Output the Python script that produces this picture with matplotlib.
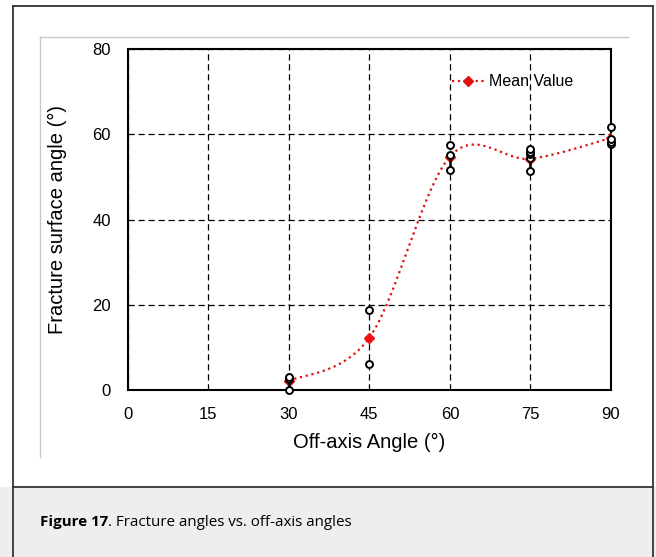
import numpy as np
import matplotlib
matplotlib.use("Agg")
import matplotlib.pyplot as plt
from matplotlib.lines import Line2D
from matplotlib.patches import Rectangle

angles = [30, 45, 60, 75, 90]
samples = [
    [0.0, 2.7, 3.1],
    [6.0, 18.7],
    [51.7, 55.2, 57.5],
    [51.4, 54.4, 55.4, 56.0, 56.5],
    [57.8, 58.3, 59.0, 61.8],
]
mean_vals = [2.1, 12.3, 54.8, 54.3, 59.2]
err_low = [2.1, 0.0, 3.1, 2.9, 1.4]
err_high = [1.0, 0.0, 0.4, 0.0, 0.0]

xticks = [0, 15, 30, 45, 60, 75, 90]
yticks = [0, 20, 40, 60, 80]


def excel_smooth(x, y, n=60):
    # bezier smoothing like the spreadsheet "smoothed line" option
    x = np.asarray(x, float)
    y = np.asarray(y, float)
    px, py = [], []
    for i in range(len(x) - 1):
        i0 = max(i - 1, 0)
        i3 = min(i + 2, len(x) - 1)
        c1x = x[i] + (x[i + 1] - x[i0]) / 6
        c1y = y[i] + (y[i + 1] - y[i0]) / 6
        c2x = x[i + 1] - (x[i3] - x[i]) / 6
        c2y = y[i + 1] - (y[i3] - y[i]) / 6
        t = np.linspace(0, 1, n)
        b0 = (1 - t) ** 3
        b1 = 3 * (1 - t) ** 2 * t
        b2 = 3 * (1 - t) * t ** 2
        b3 = t ** 3
        px.append(b0 * x[i] + b1 * c1x + b2 * c2x + b3 * x[i + 1])
        py.append(b0 * y[i] + b1 * c1y + b2 * c2y + b3 * y[i + 1])
    return np.concatenate(px), np.concatenate(py)


W, H = 656, 557
fig = plt.figure(figsize=(W / 100, H / 100), dpi=100)
fig.patch.set_facecolor("white")

# page decoration: outer box, caption panel, light frame
fig.patches.append(Rectangle((0, 0), 1, (H - 487) / H, transform=fig.transFigure,
                             facecolor="#eeeeee", edgecolor="none", zorder=0))
fig.add_artist(Line2D([12.5 / W, 12.5 / W], [0, 1 - 6 / H], color="#333333", lw=1.3))
fig.add_artist(Line2D([653 / W, 653 / W], [0, 1 - 6 / H], color="#333333", lw=1.3))
fig.add_artist(Line2D([12.5 / W, 653 / W], [1 - 6 / H, 1 - 6 / H], color="#333333", lw=1.3))
fig.add_artist(Line2D([12.5 / W, 653 / W], [1 - 487 / H, 1 - 487 / H], color="#333333", lw=1.3))
fig.add_artist(Line2D([40 / W, 628 / W], [1 - 37 / H, 1 - 37 / H], color="#c8c8c8", lw=1.0))
fig.add_artist(Line2D([40 / W, 40 / W], [1 - 37 / H, 1 - 457 / H], color="#c8c8c8", lw=1.0))

cap = fig.text(40 / W, 1 - 522 / H, "Figure 17", fontsize=10.9, fontweight="bold",
               family="Open Sans", va="center", ha="left")
fig.canvas.draw()
bb = cap.get_window_extent()
fig.text(bb.x1 / W, 1 - 522 / H, ". Fracture angles vs. off-axis angles", fontsize=10.9,
         family="Open Sans", va="center", ha="left")

ax = fig.add_axes([127.7 / W, 1 - 390 / H, (611 - 127.7) / W, (390 - 49.3) / H])
ax.set_xlim(0, 90)
ax.set_ylim(0, 80)
ax.set_xticks(xticks)
ax.set_yticks(yticks)
ax.tick_params(length=0, labelsize=12)
ax.tick_params(axis="y", pad=12)
ax.tick_params(axis="x", pad=12)
for lab in ax.get_xticklabels() + ax.get_yticklabels():
    lab.set_family("Liberation Sans")
for s in ax.spines.values():
    s.set_linewidth(1.5)
    s.set_color("black")
ax.grid(True, color="black", linestyle=(0, (5, 3)), linewidth=0.9)
ax.set_axisbelow(True)

sx, sy = excel_smooth(angles, mean_vals)
ax.plot(sx, sy, color="#e01010", linestyle=":", linewidth=1.6, zorder=3)
ax.plot(angles, mean_vals, linestyle="none", marker="D", color="#ee1111",
        markersize=5, zorder=4)
ax.errorbar(angles, mean_vals, yerr=[err_low, err_high], fmt="none",
            ecolor="black", elinewidth=1.8, capsize=0, zorder=4)
for a, vals in zip(angles, samples):
    ax.plot([a] * len(vals), vals, linestyle="none", marker="o", markersize=5,
            markerfacecolor="white", markeredgecolor="black", markeredgewidth=1.4,
            zorder=5, clip_on=False)

handle = Line2D([], [], color="#e01010", linestyle=":", linewidth=1.6,
                marker="D", markersize=5)
ax.legend([handle], ["Mean Value"], loc="center left",
          bbox_to_anchor=((444 - 127.7) / 483.3, (390 - 82) / 340.7),
          frameon=False, borderpad=0, handlelength=2.0, handletextpad=0.3,
          prop={"family": "Liberation Sans", "size": 11.5})

ax.set_xlabel("Off-axis Angle (°)", fontsize=14.5, family="Liberation Sans", labelpad=8)
ax.set_ylabel("Fracture surface angle (°)", fontsize=14.5, family="Liberation Sans",
              labelpad=18)

fig.savefig("out.png", dpi=100)
